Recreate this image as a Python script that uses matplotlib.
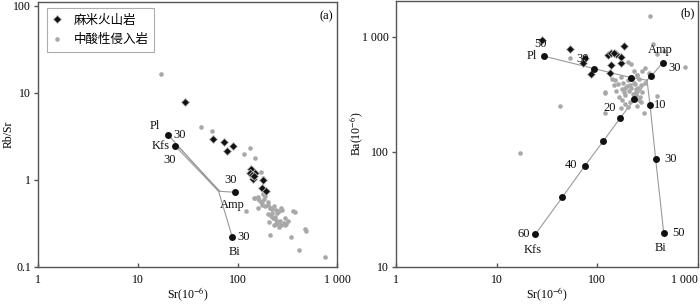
import numpy as np
import matplotlib
matplotlib.use("Agg")
import matplotlib.pyplot as plt

plt.rcParams["font.family"] = ["Liberation Serif", "Noto Sans CJK SC", "DejaVu Sans"]
plt.rcParams["mathtext.fontset"] = "stix"

# ---- panel (a): Sr vs Rb/Sr ----
a_volc_sr = [29.5, 56.6, 74, 91, 79, 137, 151, 132, 142, 179, 176, 194, 140, 146]
a_volc_rbsr = [7.8, 2.96, 2.71, 2.44, 2.14, 1.33, 1.19, 1.19, 1.03, 1.0, 0.81, 0.74, 1.15, 1.1]

a_intr_sr = [17.3, 43.3, 55.4, 134, 117, 151, 173, 178, 122, 209, 209, 344, 417, 479, 357,
             486, 759, 307, 380, 150, 160, 165, 175, 185, 190, 200, 210, 220, 230, 240,
             250, 260, 270, 280, 200, 215, 225, 235, 245, 255, 265, 190, 180, 170, 230,
             240, 250, 260, 275, 290, 300, 205, 220, 300, 320, 160, 175, 200, 145]
a_intr_rbsr = [16.6, 4.0, 3.67, 2.34, 1.97, 1.76, 1.24, 1.05, 0.44, 0.48, 0.233, 0.22, 0.155,
               0.27, 0.44, 0.26, 0.129, 0.31, 0.43, 0.62, 0.63, 0.58, 0.55, 0.6, 0.5, 0.52,
               0.48, 0.46, 0.5, 0.45, 0.42, 0.44, 0.47, 0.45, 0.4, 0.38, 0.36, 0.37, 0.35,
               0.33, 0.34, 0.65, 0.68, 0.55, 0.3, 0.31, 0.32, 0.29, 0.3, 0.32, 0.3, 0.33,
               0.42, 0.36, 0.34, 0.48, 0.52, 0.56, 0.62]

a_junction = (64.6, 0.74)
a_min_sr = [20.1, 23.8, 94, 88.5]       # Pl, Kfs, Amp, Bi
a_min_rbsr = [3.31, 2.44, 0.72, 0.221]

# ---- panel (b): Sr vs Ba ----
b_volc_sr = [28.2, 53.9, 74.8, 71.6, 86.5, 133, 128, 138, 138, 172, 170, 183, 155, 148]
b_volc_ba = [929, 785, 658, 588, 472, 488, 693, 730, 565, 588, 670, 830, 705, 726]

b_intr_sr = [331, 358, 457, 394, 740, 54, 42.2, 16.9, 394, 289, 118, 120, 202, 118,
             150, 160, 170, 180, 190, 200, 210, 220, 230, 240, 250, 260, 270, 280, 300,
             175, 185, 195, 205, 215, 225, 235, 245, 255, 265, 165, 175, 190, 210, 225,
             240, 260, 280, 200, 215, 230, 250, 145, 155, 330, 300, 190, 170, 250, 270, 140]
b_intr_ba = [1507, 857, 751, 709, 546, 658, 250, 98, 307, 217, 217, 327, 243, 330,
             420, 390, 450, 400, 360, 420, 380, 440, 400, 350, 470, 430, 380, 500, 540,
             350, 330, 370, 340, 360, 320, 390, 330, 360, 300, 300, 280, 260, 270, 290,
             310, 280, 330, 600, 580, 500, 470, 380, 340, 480, 400, 310, 240, 250, 270, 430]

b_junction = (312, 419)
b_pl_sr = [218, 93.5, 29.2]
b_pl_ba = [441, 528, 680]
b_kfs_sr = [233, 169, 114, 74.8, 45, 24.2]
b_kfs_ba = [285, 197, 123, 75.2, 40.5, 19.2]
b_amp_sr = [344, 447]
b_amp_ba = [457, 594]
b_bi_sr = [334, 380, 457]
b_bi_ba = [255, 87, 19.8]

XTICKS = [1, 10, 100, 1000]
XTICKLABELS = ["1", "10", "100", "1 000"]

BLACK = "#111111"
GRAY = "#a8a8a8"
LINE = "#9a9a9a"
SPINE = "#555555"


def style_axes(ax):
    ax.set_xscale("log")
    ax.set_yscale("log")
    ax.set_xlim(1, 1000)
    ax.set_xticks(XTICKS)
    ax.set_xticklabels(XTICKLABELS)
    ax.minorticks_off()
    for s in ax.spines.values():
        s.set_color(SPINE)
        s.set_linewidth(1.0)
    ax.tick_params(axis="x", direction="in", length=3, width=1, color=SPINE,
                   labelsize=8.5, pad=5)
    ax.tick_params(axis="y", direction="out", length=3, width=1, color=SPINE,
                   labelsize=8.5, pad=2)
    ax.set_xlabel("Sr(10$^{-6}$)", fontsize=8.5, labelpad=0)


def draw_samples(ax, vsr, vval, isr, ival):
    ax.plot(isr, ival, "o", ms=3.3, color=GRAY, mec="none", zorder=2,
            label="中酸性侵入岩")
    ax.plot(vsr, vval, "D", ms=3.6, color=BLACK, mec="#bbbbbb", mew=0.6, zorder=3,
            label="麻米火山岩")


def label(ax, x, y, text, dx, dy, ha="center", va="center"):
    ax.annotate(text, (x, y), xytext=(dx, dy), textcoords="offset points",
                ha=ha, va=va, fontsize=9, color="#111111", zorder=6)


fig = plt.figure(figsize=(7.0, 3.05), dpi=100)
ax1 = fig.add_axes([0.054, 0.125, 0.428, 0.868])
ax2 = fig.add_axes([0.566, 0.125, 0.431, 0.872])

# ---- (a) ----
style_axes(ax1)
ax1.set_ylim(0.1, 110)
ax1.set_yticks([0.1, 1, 10, 100])
ax1.set_yticklabels(["0.1", "1", "10", "100"])
ax1.set_ylabel("Rb/Sr", fontsize=8.5)
ax1.yaxis.set_label_coords(-0.078, 0.5)

jx, jy = a_junction
for sx, sy in zip(a_min_sr, a_min_rbsr):
    ax1.plot([jx, sx], [jy, sy], "-", color=LINE, lw=0.8, zorder=1)
# the Pl trace runs close beside the Kfs one
ax1.plot([jx * 1.03, a_min_sr[1] * 1.01], [jy, a_min_rbsr[1] * 1.06], "-",
         color=LINE, lw=0.8, zorder=1)
ax1.plot(a_min_sr, a_min_rbsr, "o", ms=5, color=BLACK, mec="none", zorder=5)

draw_samples(ax1, a_volc_sr, a_volc_rbsr, a_intr_sr, a_intr_rbsr)

label(ax1, a_min_sr[0], a_min_rbsr[0], "Pl", -6, 6, ha="right")
label(ax1, a_min_sr[0], a_min_rbsr[0], "30", 4, 0, ha="left")
label(ax1, a_min_sr[1], a_min_rbsr[1], "Kfs", -4, 0, ha="right")
label(ax1, a_min_sr[1], a_min_rbsr[1], "30", -4, -10, ha="center")
label(ax1, a_min_sr[2], a_min_rbsr[2], "30", -3, 9, ha="center")
label(ax1, a_min_sr[2], a_min_rbsr[2], "Amp", -2, -9, ha="center")
label(ax1, a_min_sr[3], a_min_rbsr[3], "30", 4, 0, ha="left")
label(ax1, a_min_sr[3], a_min_rbsr[3], "Bi", 2, -11, ha="center")

ax1.text(0.985, 0.97, "(a)", transform=ax1.transAxes, ha="right", va="top",
         fontsize=9)
h, l = ax1.get_legend_handles_labels()
leg = ax1.legend(h[::-1], l[::-1], loc="upper left", bbox_to_anchor=(0.03, 0.977),
                 frameon=True, fancybox=False, handlelength=0.8,
                 handletextpad=0.9, borderpad=0.45, labelspacing=0.5,
                 borderaxespad=0,
                 prop={"family": ["Noto Sans CJK SC"], "size": 9})
leg.get_frame().set_edgecolor("#999999")
leg.get_frame().set_linewidth(0.8)

# ---- (b) ----
style_axes(ax2)
ax2.set_ylim(10, 2050)
ax2.set_yticks([10, 100, 1000])
ax2.set_yticklabels(["10", "100", "1 000"])
ax2.set_ylabel("Ba(10$^{-6}$)", fontsize=8.5)
ax2.yaxis.set_label_coords(-0.105, 0.5)
last = ax2.get_xticklabels()[-1]
last.set_horizontalalignment("right")

jx, jy = b_junction
for xs, ys in [(b_pl_sr, b_pl_ba), (b_kfs_sr, b_kfs_ba), (b_amp_sr, b_amp_ba),
               (b_bi_sr, b_bi_ba)]:
    ax2.plot([jx] + xs, [jy] + ys, "-", color=LINE, lw=0.8, zorder=1)

draw_samples(ax2, b_volc_sr, b_volc_ba, b_intr_sr, b_intr_ba)

for xs, ys in [(b_pl_sr, b_pl_ba), (b_kfs_sr, b_kfs_ba), (b_amp_sr, b_amp_ba),
               (b_bi_sr, b_bi_ba)]:
    ax2.plot(xs, ys, "o", ms=5, color=BLACK, mec="none", zorder=5)

label(ax2, b_pl_sr[2], b_pl_ba[2], "Pl", -5, 0, ha="right")
label(ax2, b_pl_sr[2], b_pl_ba[2], "50", -2, 9, ha="center")
label(ax2, b_pl_sr[1], b_pl_ba[1], "30", -4, 7, ha="right")
label(ax2, b_kfs_sr[5], b_kfs_ba[5], "60", -4, 0, ha="right")
label(ax2, b_kfs_sr[5], b_kfs_ba[5], "Kfs", -2, -11, ha="center")
label(ax2, b_kfs_sr[3], b_kfs_ba[3], "40", -5, 1, ha="right")
label(ax2, b_kfs_sr[1], b_kfs_ba[1], "20", -3, 7, ha="right")
label(ax2, b_amp_sr[1], b_amp_ba[1], "Amp", -2, 9, ha="center")
label(ax2, b_amp_sr[1], b_amp_ba[1], "30", 4, -4, ha="left")
label(ax2, b_bi_sr[0], b_bi_ba[0], "10", 3, 0, ha="left")
label(ax2, b_bi_sr[1], b_bi_ba[1], "30", 6, 0, ha="left")
label(ax2, b_bi_sr[2], b_bi_ba[2], "50", 6, 0, ha="left")
label(ax2, b_bi_sr[2], b_bi_ba[2], "Bi", -2, -11, ha="center")

ax2.text(0.99, 0.975, "(b)", transform=ax2.transAxes, ha="right", va="top",
         fontsize=9)

fig.savefig("out.png", dpi=100)
